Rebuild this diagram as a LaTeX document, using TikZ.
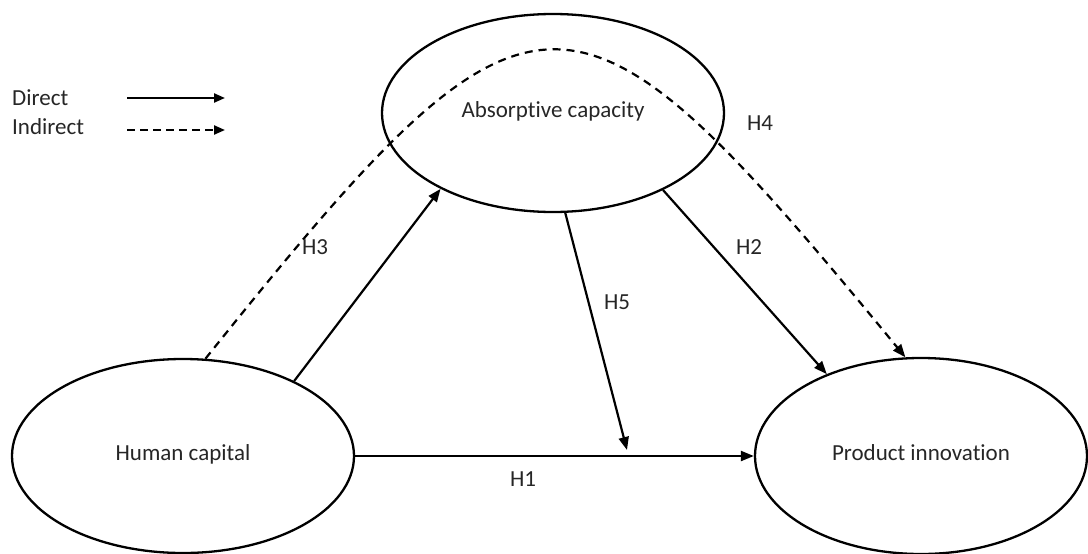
\documentclass[tikz,border=0pt]{standalone}
\usepackage{fontspec}
\setmainfont[Ligatures={NoCommon,NoContextual}]{Carlito}
\usetikzlibrary{arrows.meta,shapes.geometric}
\begin{document}
\begin{tikzpicture}[x=1pt,y=-1pt,
  lat/.style={draw,ellipse,line width=2.3pt,inner sep=0pt,text=black!85,font=\fontsize{23}{27}\selectfont},
  lbl/.style={font=\fontsize{23}{27}\selectfont,text=black!85,inner sep=0pt},
  dir/.style={line width=2.2pt,-{Triangle[length=13pt,width=10pt]}},
  ind/.style={dir,dash pattern=on 8pt off 6pt},
  legdir/.style={line width=2.2pt,-{Triangle[length=11pt,width=9pt]}},
  legind/.style={legdir,dash pattern=on 8pt off 5pt}]
\useasboundingbox (0,0) rectangle (1088,554);
% latent variables
\node[lat,minimum width=342pt,minimum height=198pt] (ac) at (553,113) {\raisebox{6pt}{Absorptive capacity}};
\node[lat,minimum width=342pt,minimum height=194pt] (hc) at (183,456) {\raisebox{6pt}{Human capital}};
\node[lat,minimum width=332pt,minimum height=196pt] (pi) at (921,456) {\raisebox{6pt}{Product innovation}};
% legend
\node[lbl,anchor=west] (ld) at (12,98) {Direct};
\node[lbl,anchor=west] (li) at (12,127) {Indirect};
\coordinate (ld1) at (127,98); \coordinate (ld2) at (225,98);
\coordinate (li1) at (127,130); \coordinate (li2) at (225,130);
\draw[legdir] (ld1) -- (ld2);
\draw[legind] (li1) -- (li2);
% connectors
\draw[dir] (hc.east) -- (pi.west);
\draw[dir] (hc.34) -- (ac.214);
\coordinate (h5end) at (627,450);
\draw[dir] (ac.277) -- (h5end);
\draw[dir] (ac.325) -- (pi.139.7);
\draw[ind] (hc.77) .. controls (537,-55) and (571,-49) .. (pi.99);
% labels
\node[lbl] (h1) at (523,479) {H1};
\node[lbl] (h2) at (749,247) {H2};
\node[lbl] (h3) at (315,247) {H3};
\node[lbl] (h4) at (760,123) {H4};
\node[lbl] (h5) at (617,302) {H5};
\end{tikzpicture}
\end{document}
